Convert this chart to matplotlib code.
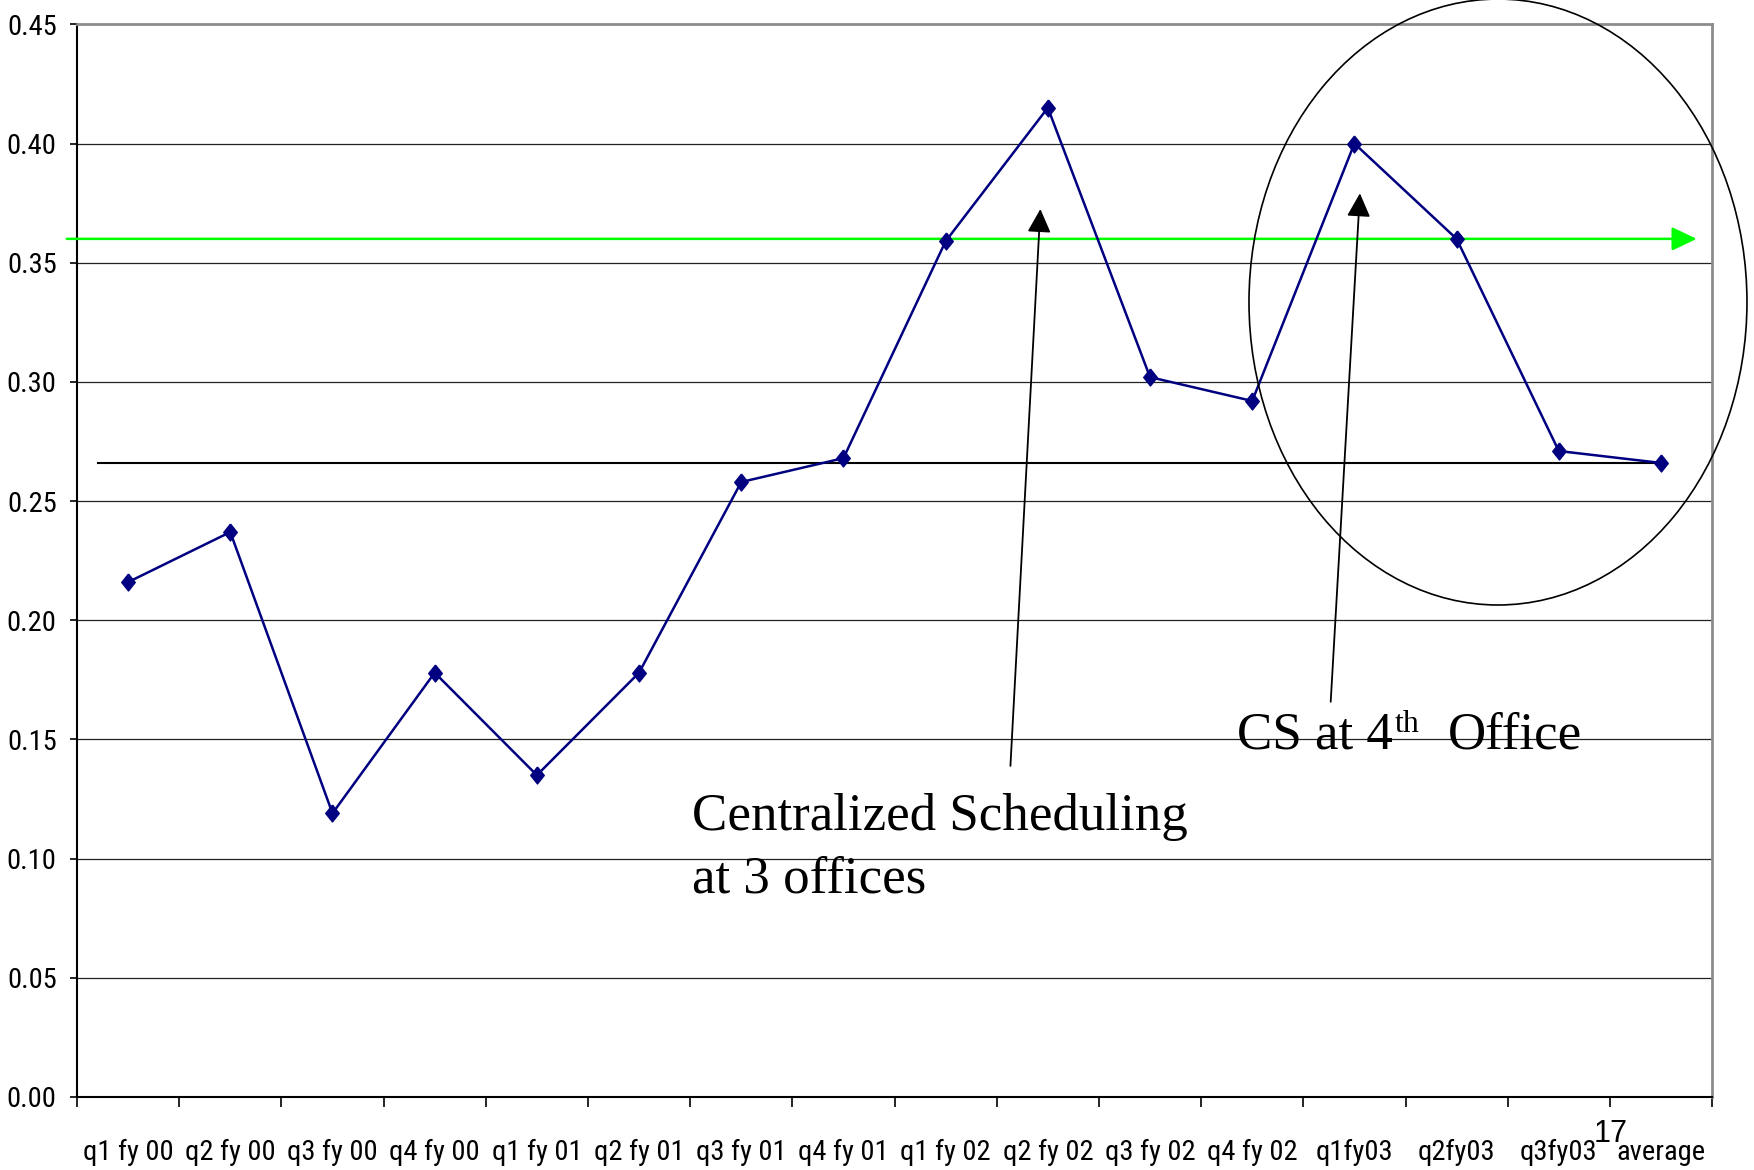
import matplotlib
matplotlib.use("Agg")
import matplotlib.pyplot as plt
from matplotlib import font_manager
from matplotlib.patches import Ellipse

# Quarterly rate series, last entry is the overall average
quarters = ["q1 fy 00", "q2 fy 00", "q3 fy 00", "q4 fy 00", "q1 fy 01", "q2 fy 01",
            "q3 fy 01", "q4 fy 01", "q1 fy 02", "q2 fy 02", "q3 fy 02", "q4 fy 02",
            "q1fy03", "q2fy03", "q3fy03", "average"]
rates = [0.216, 0.237, 0.119, 0.178, 0.135, 0.178, 0.258, 0.268, 0.359, 0.415,
         0.302, 0.292, 0.400, 0.360, 0.271, 0.266]
y_ticks = [0.00, 0.05, 0.10, 0.15, 0.20, 0.25, 0.30, 0.35, 0.40, 0.45]
y_tick_labels = ["0.00", "0.05", "0.10", "0.15", "0.20", "0.25", "0.30", "0.35", "0.40", "0.45"]
target_level = 0.36
average_level = rates[-1]
note_centralized = ["Centralized Scheduling", "at 3 offices"]
note_cs = ["CS at 4", "th", "Office"]
page_number = "17"

# Narrow sans for the tick labels when one is installed, else a smaller regular sans
installed = {f.name for f in font_manager.fontManager.ttflist}
tick_family, tick_size = "Liberation Sans", 17
for name in ("Liberation Sans Narrow", "Arial Narrow", "Roboto Condensed",
             "Open Sans Condensed"):
    if name in installed:
        tick_family, tick_size = name, 20.5
        break

note_font = "Liberation Serif"
navy = "#000080"

fig = plt.figure(figsize=(17.54, 11.70), dpi=100)
ax = fig.add_axes([0.0439, 0.0624, 0.9322, 0.9168])

n = len(quarters)
xs = [i + 0.5 for i in range(n)]

# Horizontal grid
for v in y_ticks[1:-1]:
    ax.axhline(v, color="#222222", lw=0.9, zorder=1)

# Average reference line
ax.plot([0.21, xs[-1]], [average_level, average_level], color="black", lw=1.5, zorder=2)

# Target level arrow
ax.annotate("", xy=(15.85, target_level), xytext=(-0.10, target_level),
            xycoords="data", textcoords="data", annotation_clip=False,
            arrowprops=dict(arrowstyle="-|>,head_length=0.4,head_width=0.19",
                            mutation_scale=38, color="#00ff00", lw=1.8,
                            shrinkA=0, shrinkB=0), zorder=3)

# Main series
diamond = [(0, 1), (0.8, 0), (0, -1), (-0.8, 0), (0, 1)]
ax.plot(xs, rates, color=navy, lw=1.8, marker=diamond, markersize=12.2,
        markerfacecolor=navy, markeredgecolor=navy, zorder=4, clip_on=False)

# Annotation arrows
arrow_kw = dict(arrowstyle="-|>,head_length=0.4,head_width=0.2", mutation_scale=36,
                color="black", lw=1.3, shrinkA=0, shrinkB=0)
ax.annotate("", xy=(9.427, 0.3725), xytext=(9.134, 0.1389), arrowprops=arrow_kw, zorder=5)
ax.annotate("", xy=(12.554, 0.3791), xytext=(12.268, 0.1658), arrowprops=arrow_kw, zorder=5)

# Annotation texts
ax.text(6.018, 0.1120, note_centralized[0], family=note_font, fontsize=38.2,
        ha="left", va="baseline", zorder=6)
ax.text(6.018, 0.0857, note_centralized[1], family=note_font, fontsize=38.2,
        ha="left", va="baseline", zorder=6)
ax.text(11.351, 0.1463, note_cs[0], family=note_font, fontsize=38.2,
        ha="left", va="baseline", zorder=6)
ax.text(12.89, 0.1530, note_cs[1], family=note_font, fontsize=23,
        ha="left", va="baseline", zorder=6)
ax.text(13.416, 0.1463, note_cs[2], family=note_font, fontsize=38.2,
        ha="left", va="baseline", zorder=6)

# Highlight oval around fiscal year 03
oval = Ellipse((13.905, 0.3335), width=4.873, height=0.2542, fill=False,
               edgecolor="black", lw=1.2, clip_on=False, zorder=6)
ax.add_patch(oval)

# Axes styling
ax.set_xlim(0, n)
ax.set_ylim(0, 0.45)
ax.set_xticks(range(n + 1))
ax.set_xticklabels([])
ax.set_xticks(xs, minor=True)
ax.set_xticklabels(quarters, minor=True, family=tick_family, fontsize=tick_size)
ax.tick_params(axis="x", which="major", direction="out", length=7, width=1.2, color="black")
ax.tick_params(axis="x", which="minor", length=0, pad=30)
ax.set_yticks(y_ticks)
ax.set_yticklabels(y_tick_labels, family=tick_family, fontsize=tick_size)
ax.tick_params(axis="y", direction="out", length=5, width=1.2, pad=9.6)

for side in ("left", "bottom"):
    ax.spines[side].set_color("black")
    ax.spines[side].set_linewidth(1.5)
for side in ("top", "right"):
    ax.spines[side].set_color("#8c8c8c")
    ax.spines[side].set_linewidth(2.0)

fig.text(1611 / 1754, 1 - 1134 / 1170, page_number, family="Liberation Sans",
         fontsize=22, ha="center", va="center")

fig.savefig("out.png", dpi=100)
